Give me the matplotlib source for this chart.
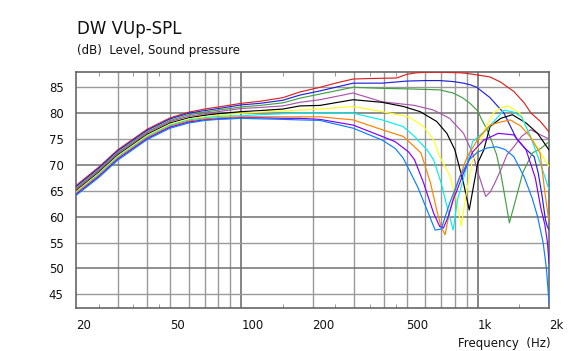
import numpy as np
import matplotlib
matplotlib.use("Agg")
import matplotlib.pyplot as plt

# frequency response curves (Hz, dB)
red_f = [20, 25, 30, 40, 50, 60, 70, 80, 100, 120, 150, 177, 215, 250, 297, 350, 454, 500, 550, 600, 700, 850, 927, 1126, 1250, 1340, 1420, 1570, 1680, 1830, 2000]
red_db = [66.0, 69.6, 72.9, 76.9, 79.1, 80.2, 80.8, 81.2, 81.9, 82.3, 83.0, 84.1, 85.0, 85.8, 86.6, 86.7, 86.8, 87.5, 87.8, 87.9, 87.9, 87.8, 87.6, 87.0, 86.0, 85.0, 84.2, 82.0, 80.0, 78.5, 76.4]

blue_f = [20, 25, 30, 40, 50, 60, 70, 80, 100, 120, 150, 177, 215, 297, 394, 500, 600, 690, 790, 870, 927, 990, 1126, 1290, 1460, 1600, 1730, 1800, 1870, 1930, 1970, 2000]
blue_db = [65.8, 69.4, 72.7, 76.7, 78.9, 80.0, 80.5, 80.9, 81.6, 81.9, 82.5, 83.5, 84.3, 85.8, 85.8, 86.2, 86.3, 86.3, 86.1, 85.8, 85.5, 85.0, 83.0, 80.0, 75.0, 73.0, 71.6, 68.5, 64.0, 59.5, 58.0, 57.5]

green_f = [20, 25, 30, 40, 50, 60, 70, 80, 100, 120, 150, 177, 215, 297, 394, 500, 690, 787, 860, 927, 1000, 1040, 1090, 1140, 1200, 1250, 1300, 1360, 1450, 1550, 1700, 1850, 2000]
green_db = [65.5, 69.1, 72.4, 76.4, 78.6, 79.7, 80.2, 80.6, 81.2, 81.5, 82.0, 82.9, 83.7, 85.0, 84.8, 84.7, 84.5, 83.9, 83.0, 81.9, 80.4, 78.7, 77.0, 74.8, 72.0, 68.4, 64.0, 58.8, 63.5, 68.5, 72.3, 73.2, 74.5]

purple_f = [20, 25, 30, 40, 50, 60, 70, 80, 100, 120, 150, 177, 215, 297, 394, 540, 650, 760, 870, 950, 1010, 1080, 1130, 1180, 1250, 1330, 1420, 1530, 1670, 1790, 1900, 2000]
purple_db = [65.3, 68.9, 72.2, 76.2, 78.4, 79.4, 79.9, 80.3, 80.9, 81.1, 81.4, 82.1, 82.6, 83.9, 82.2, 81.5, 80.6, 79.0, 76.1, 72.3, 68.0, 63.9, 64.8, 66.5, 69.0, 72.0, 73.5, 75.5, 76.8, 76.1, 75.5, 75.0]

black_f = [20, 25, 30, 40, 50, 60, 70, 80, 100, 120, 150, 177, 215, 297, 394, 484, 570, 670, 740, 800, 870, 920, 960, 1000, 1060, 1126, 1250, 1400, 1600, 1790, 2000]
black_db = [65.0, 68.6, 71.9, 75.9, 78.1, 79.1, 79.6, 79.9, 80.3, 80.5, 80.8, 81.4, 81.5, 82.6, 82.1, 81.3, 80.3, 78.4, 76.1, 72.9, 66.5, 61.3, 66.0, 70.4, 72.9, 77.4, 79.0, 79.7, 78.1, 76.1, 72.9]

yellow_f = [20, 25, 30, 40, 50, 60, 70, 80, 100, 120, 150, 177, 215, 297, 394, 510, 590, 650, 690, 760, 810, 851, 890, 944, 1070, 1160, 1250, 1340, 1508, 1670, 1830, 2000]
yellow_db = [64.8, 68.4, 71.7, 75.7, 77.9, 78.9, 79.3, 79.6, 80.0, 80.2, 80.4, 80.6, 80.8, 81.3, 80.3, 79.3, 77.4, 74.8, 71.6, 68.0, 63.5, 58.2, 64.0, 70.3, 76.8, 80.0, 81.0, 81.4, 80.0, 75.5, 72.5, 69.7]

cyan_f = [20, 25, 30, 40, 50, 60, 70, 80, 100, 120, 150, 177, 215, 297, 394, 484, 540, 610, 650, 700, 745, 787, 820, 890, 950, 1100, 1290, 1420, 1530, 1670, 1850, 2000]
cyan_db = [64.6, 68.2, 71.5, 75.5, 77.7, 78.7, 79.1, 79.4, 79.5, 79.7, 79.9, 80.0, 80.0, 80.0, 78.7, 77.4, 75.5, 72.9, 71.0, 66.5, 61.5, 57.4, 63.2, 69.0, 74.5, 77.0, 80.6, 80.2, 79.3, 75.5, 70.0, 65.2]

orange_f = [20, 25, 30, 40, 50, 60, 70, 80, 100, 120, 150, 177, 215, 297, 394, 484, 540, 575, 631, 670, 700, 727, 760, 820, 900, 1000, 1126, 1250, 1370, 1520, 1663, 1833, 1930, 2000]
orange_db = [64.5, 68.0, 71.3, 75.3, 77.5, 78.5, 78.9, 79.1, 79.3, 79.3, 79.3, 79.3, 79.3, 78.7, 76.8, 75.5, 73.5, 72.3, 66.5, 61.3, 58.0, 56.5, 61.0, 66.5, 71.5, 75.0, 77.7, 78.3, 78.7, 77.5, 75.5, 72.3, 64.0, 59.0]

violet_f = [20, 25, 30, 40, 50, 60, 70, 80, 100, 120, 150, 177, 215, 297, 394, 447, 510, 540, 590, 650, 690, 715, 750, 787, 880, 950, 1060, 1220, 1420, 1600, 1750, 1850, 1920, 1970, 2000]
violet_db = [64.3, 67.8, 71.1, 75.1, 77.3, 78.3, 78.7, 78.9, 79.1, 79.1, 79.0, 79.0, 78.8, 77.7, 75.5, 74.5, 72.5, 71.0, 66.5, 60.7, 58.1, 57.8, 60.0, 63.2, 69.0, 72.5, 74.8, 76.1, 75.8, 72.9, 67.5, 61.5, 58.5, 55.0, 51.0]

dodger_f = [20, 25, 30, 40, 50, 60, 70, 80, 100, 120, 150, 177, 215, 297, 394, 447, 484, 556, 610, 660, 700, 760, 840, 920, 1000, 1100, 1200, 1300, 1420, 1570, 1700, 1790, 1890, 1950, 2000]
dodger_db = [64.1, 67.6, 70.9, 74.9, 77.1, 78.1, 78.6, 78.8, 79.0, 78.9, 78.8, 78.7, 78.6, 77.1, 74.8, 73.2, 71.3, 65.8, 61.3, 57.4, 57.6, 62.6, 67.7, 71.0, 72.5, 73.3, 73.5, 73.0, 71.6, 67.7, 63.5, 60.0, 54.9, 50.0, 43.3]

curves = [
    (red_f, red_db, "#dd2222"),
    (blue_f, blue_db, "#2222dd"),
    (green_f, green_db, "#44a044"),
    (purple_f, purple_db, "#aa55aa"),
    (black_f, black_db, "#000000"),
    (yellow_f, yellow_db, "#ffff20"),
    (cyan_f, cyan_db, "#00f0f0"),
    (orange_f, orange_db, "#ff8000"),
    (violet_f, violet_db, "#8000ff"),
    (dodger_f, dodger_db, "#0a7fff"),
]

xtick_vals = [20, 50, 100, 200, 500, 1000, 2000]
xtick_labels = ["20", "50", "100", "200", "500", "1k", "2k"]
ytick_vals = [45, 50, 55, 60, 65, 70, 75, 80, 85]
small_marks = [25, 35, 45, 150, 250, 350, 450, 1500]
light_vlines = [30, 40, 50, 60, 70, 80, 90, 200, 300, 400, 500, 600, 700, 800, 900]
dark_vlines = [100, 1000]

fig = plt.figure(figsize=(5.78, 3.51), dpi=100)
ax = fig.add_axes([76 / 578, 1 - 307.7 / 351, 473 / 578, 235.4 / 351])
ax.set_xscale("log")
ax.set_xlim(20, 2000)
ax.set_ylim(42.4, 87.9)

# grid
for v in light_vlines:
    ax.axvline(v, color="#999999", lw=1.0, zorder=1)
for v in dark_vlines:
    ax.axvline(v, color="#707070", lw=1.2, zorder=1)
for y in ytick_vals:
    c = "#707070" if y % 10 == 0 else "#999999"
    ax.axhline(y, color=c, lw=1.1 if y % 10 == 0 else 1.0, zorder=1)

for f, db, c in curves:
    ax.plot(f, db, color=c, lw=0.85, zorder=3)

ax.set_xticks(xtick_vals)
ax.set_xticklabels(xtick_labels, ha="left")
ax.set_xticks(small_marks, minor=True)
ax.xaxis.set_minor_formatter(plt.NullFormatter())
ax.set_yticks(ytick_vals)
ax.tick_params(axis="both", which="major", length=0, labelsize=8.5, colors="#111111")
ax.tick_params(axis="x", which="major", pad=8)
ax.tick_params(axis="y", which="major", pad=9)
ax.tick_params(axis="x", which="minor", direction="in", length=3, top=True, bottom=True, color="#888888")

for s in ax.spines.values():
    s.set_color("#666666")
    s.set_linewidth(1.2)

fig.text(77 / 578, 1 - 29 / 351, "DW VUp-SPL", fontsize=12, va="center", ha="left", color="#111111")
fig.text(77 / 578, 1 - 50.5 / 351, "(dB)  Level, Sound pressure", fontsize=8.5, va="center", ha="left", color="#111111")
fig.text(551 / 578, 1 - 343 / 351, "Frequency  (Hz)", fontsize=8.5, va="center", ha="right", color="#111111")

fig.savefig("out.png", dpi=100)
